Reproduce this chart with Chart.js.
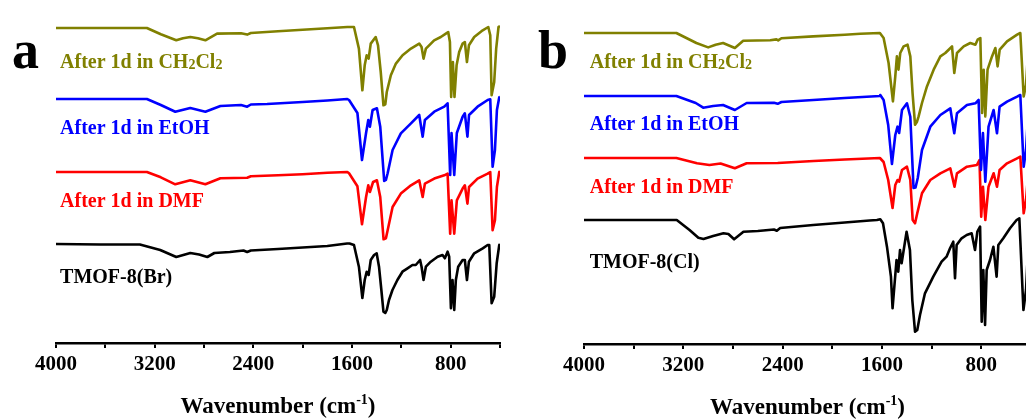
<!DOCTYPE html>
<html>
<head>
<meta charset="utf-8">
<script src="https://cdn.jsdelivr.net/npm/chart.js@4.4.1/dist/chart.umd.min.js"></script>
<style>
  html, body { margin: 0; padding: 0; background: #fff; overflow: hidden; width: 1026px; height: 419px; }
  #wrap { position: relative; width: 1026px; height: 419px; overflow: hidden; }
  canvas { position: absolute; top: 0; }
  #panelA { left: 0; width: 513px; height: 419px; }
  #panelB { left: 513px; width: 530px; height: 419px; }
</style>
</head>
<body>
<div id="wrap">
  <canvas id="panelA" width="513" height="419"></canvas>
  <canvas id="panelB" width="530" height="419"></canvas>
</div>
<script>
// --- axis ticks (cm-1) ---
const tickValues = [4000, 3600, 3200, 2800, 2400, 2000, 1600, 1200, 800, 400];
const majorTicks = [4000, 3200, 2400, 1600, 800];

// --- panel a : TMOF-8(Br), [wavenumber, %T] ---
const aTmof = [[4000,100],[3640,99.5],[3320,99.5],[3155,94],[3025,87],[2968,89],[2911,91],[2840,89.5],[2773,87],[2716,91],[2590,92],[2480,93.5],[2450,92],[2420,93.5],[2200,95],[2000,96.5],[1800,98],[1640,100.5],[1620,100.5],[1584,99],[1544,77.3],[1516,46],[1497,64],[1481,72.3],[1465,69],[1448,84],[1421,89],[1400,90.7],[1381,77.3],[1362,54],[1345,32.3],[1330,31],[1318,34],[1300,44],[1272,54],[1232,64],[1191,72.3],[1150,75.7],[1110,79],[1083,79],[1048,84],[1036,77.3],[1020,64],[1001,77.3],[961,82.3],[906,87.3],[866,89],[847,85.7],[825,92.3],[812,87.3],[798,35.7],[785,64],[771,34],[758,64],[739,77.3],[703,84],[685,84],[668,64],[652,82.3],[609,90.7],[540,95.7],[500,99],[487,99],[468,40.7],[447,47.3],[427,80.7],[406,99],[400,100]];
const aDmf = [[4000,100],[3263,100],[3150,94.7],[3033,87.7],[2911,91.7],[2789,87.7],[2667,93.7],[2450,94.2],[2420,95.7],[2200,96.7],[2000,97.7],[1800,99.2],[1638,100],[1624,98.7],[1556,85.7],[1519,47.7],[1486,75],[1468,86.7],[1455,80],[1429,90],[1398,91.7],[1371,75],[1344,32.7],[1325,33.7],[1311,41.7],[1271,65],[1204,78.4],[1122,86.7],[1055,91.7],[1027,75],[1009,88.4],[933,93.4],[852,96.7],[825,98.4],[804,38.4],[793,71.7],[771,38.4],[750,71.7],[703,83.4],[685,86.7],[664,68.4],[651,85],[582,93.4],[500,98.4],[479,100],[460,41.7],[441,51.7],[425,85],[406,100],[400,100.7]];
const aEtoh = [[4000,100],[3263,100],[3150,94],[3033,87.3],[2911,91],[2789,87.3],[2667,93],[2500,94],[2450,92.3],[2420,94.5],[2288,95],[2000,97],[1800,98.5],[1638,100],[1624,99],[1556,86],[1519,39],[1486,66],[1468,79],[1455,72.3],[1433,89],[1398,90.7],[1371,72.3],[1339,18],[1325,19],[1311,25.7],[1271,49],[1204,65.7],[1122,75.7],[1055,84],[1027,62.3],[1009,79],[933,87.3],[852,92.3],[825,95.7],[804,24],[793,66],[771,24],[750,66],[703,82.3],[685,85.7],[664,62.3],[651,84],[582,92.3],[500,99],[479,99.7],[460,32.3],[441,49],[425,89],[406,101.7],[400,102]];
const aDcm = [[4000,100],[3263,100],[3150,93.7],[3025,87.7],[2970,89.7],[2911,91],[2850,89.7],[2789,87.7],[2694,94.4],[2500,94.7],[2450,93.4],[2420,95],[2200,96.7],[2000,98.2],[1800,99.7],[1638,101],[1584,101],[1544,79.4],[1516,37.7],[1497,62.7],[1481,72.7],[1465,69.4],[1448,84.4],[1408,91],[1389,82.7],[1367,56],[1345,22.7],[1330,23.7],[1318,36],[1285,52.7],[1244,64.4],[1190,72.7],[1122,79.4],[1055,84.4],[1036,81],[1020,69.4],[1001,79.4],[934,87.7],[880,91],[839,94.4],[820,96],[806,86],[796,31],[782,66],[769,31],[752,62.7],[731,76],[703,84.4],[685,86],[668,66],[652,82.7],[609,91],[540,97.7],[495,101],[479,92.7],[468,32.7],[447,46],[431,79.4],[412,101],[400,101.7]];
const offsetsA = [216, 145, 72, 0];   // olive, blue, red, black

// --- panel b : TMOF-8(Cl) ---
const bTmof = [[4000,100],[3253,100],[3150,90],[3079,82.3],[3038,81],[2960,84],[2877,86.7],[2837,86],[2791,80.7],[2716,88.3],[2600,89],[2470,90.5],[2447,89.3],[2420,92],[2154,95],[1900,97.5],[1700,99.5],[1641,100],[1614,100.7],[1592,96.7],[1560,73.3],[1528,43.3],[1515,11.7],[1483,60],[1469,48.3],[1455,70],[1442,56.7],[1402,88.3],[1375,70],[1356,20],[1334,-11.7],[1316,-10],[1294,5],[1254,26.7],[1187,43.3],[1120,58.3],[1080,63.3],[1052,71.7],[1026,78.3],[1012,41.7],[999,75],[959,81.7],[918,85],[878,86.7],[851,70],[832,88.3],[810,93.3],[797,-1.7],[784,50],[770,-5],[757,50],[730,60],[703,73.3],[677,43.3],[663,75],[623,81.7],[569,91.7],[516,100],[494,101.7],[461,10],[440,30],[420,80],[400,100]];
const bDmf = [[4000,100],[3256,100],[3090,94.7],[2990,93],[2900,94.5],[2785,89.7],[2690,94.7],[2440,95],[2150,97],[1900,98.5],[1617,100],[1587,96],[1550,78],[1515,50],[1493,73],[1475,78],[1462,76.3],[1439,88],[1399,91.3],[1372,78],[1353,38],[1334,34.7],[1316,44.7],[1278,64.7],[1211,78],[1130,84.7],[1050,89.7],[1016,71.3],[996,84.7],[916,91.3],[836,93],[815,98],[801,41.3],[787,71.3],[768,38],[742,71.3],[701,84.7],[674,71.3],[653,88],[593,94.7],[512,99.7],[486,101.3],[459,44.7],[440,58],[420,88],[400,100]];
const bEtoh = [[4000,100],[3256,100],[3100,93],[3040,88.3],[2960,90],[2880,91],[2785,86],[2690,93],[2470,93.2],[2440,92.2],[2410,94],[2154,96],[1900,98],[1617,100],[1614,101],[1587,96],[1550,71],[1520,32],[1493,61],[1475,69.3],[1462,63],[1439,86],[1399,92.7],[1372,79.3],[1346,8],[1330,8.5],[1312,18],[1278,46],[1211,69.3],[1130,81],[1050,87.7],[1018,62.7],[996,82.7],[916,91],[848,92.7],[822,96],[803,26],[787,63],[768,14.3],[742,69.3],[701,86],[674,62.7],[653,89.3],[593,94.3],[512,99.3],[486,101],[459,29.3],[440,46],[420,88],[400,100]];
const bDcm = [[4000,100],[3256,100],[3095,90],[3000,85.6],[2940,88.3],[2880,90],[2785,85],[2718,92.3],[2500,92.8],[2450,93.6],[2436,92.6],[2410,94.8],[2154,96.6],[1900,98.3],[1775,99.3],[1617,100],[1587,95],[1547,70],[1512,31.6],[1493,56.6],[1480,76.6],[1467,63.3],[1453,80],[1426,86.6],[1394,88.3],[1372,76.6],[1354,40],[1334,8.3],[1318,11.3],[1305,16.6],[1278,30],[1238,46.6],[1184,63.3],[1130,76.6],[1090,80],[1063,83.3],[1036,86.6],[1018,60],[996,80],[942,86.6],[889,90],[848,88.3],[830,93.3],[808,95],[794,20],[781,63.3],[768,16.6],[750,63.3],[714,76.6],[687,85],[669,66.6],[652,83.3],[593,91.6],[512,98.3],[486,100],[459,36.6],[440,48],[420,88],[400,100]];
const offsetsB = [187, 124, 62, 0];

// series names, split into [text, 0 normal | 1 subscript]
const namesA = [
  [['After 1d in CH', 0], ['2', 1], ['Cl', 0], ['2', 1]],
  [['After 1d in EtOH', 0]],
  [['After 1d in DMF', 0]],
  [['TMOF-8(Br)', 0]]
];
const namesB = [namesA[0], namesA[1], namesA[2], [['TMOF-8(Cl)', 0]]];
const colors = ['#808000', '#0000ff', '#ff0000', '#000000'];

const FONT = '"Liberation Serif", "Times New Roman", serif';

function drawParts(ctx, parts, x, y, size, align) {
  const fontFor = k => 'bold ' + (k ? Math.round(size * (k === 1 ? 0.72 : 0.6)) : size) + 'px ' + FONT;
  let total = 0;
  parts.forEach(([t, k]) => { ctx.font = fontFor(k); total += ctx.measureText(t).width; });
  let cx = align === 'center' ? x - total / 2 : x;
  parts.forEach(([t, k]) => {
    ctx.font = fontFor(k);
    const dy = k === 1 ? 1 : (k === 2 ? -size * 0.4 : 0);
    ctx.fillText(t, cx, y + dy);
    cx += ctx.measureText(t).width;
  });
}

// letters, series names and the axis title
const annotate = {
  id: 'annotate',
  afterDraw(chart, args, opts) {
    const { ctx, chartArea } = chart;
    const xs = chart.scales.x, ys = chart.scales.y;
    ctx.save();
    ctx.textBaseline = 'alphabetic';
    ctx.textAlign = 'left';
    ctx.fillStyle = '#000';
    ctx.font = 'bold 54px ' + FONT;
    ctx.fillText(opts.letter, opts.letterX, 68);
    opts.names.forEach((parts, i) => {
      ctx.fillStyle = colors[i];
      drawParts(ctx, parts, xs.getPixelForValue(opts.nameWn), ys.getPixelForValue(opts.nameY[i]), 20, 'left');
    });
    ctx.fillStyle = '#000';
    drawParts(ctx, [['Wavenumber (cm', 0], ['-1', 2], [')', 0]],
      (chartArea.left + chartArea.right) / 2, chartArea.bottom + 70, 23, 'center');
    ctx.restore();
  }
};

function makePanel(id, series, offsets, opt) {
  const datasets = series.map((s, i) => ({
    data: s.map(p => ({ x: p[0], y: p[1] + offsets[i] })),
    borderColor: colors[i],
    borderWidth: 2.6,
    borderJoinStyle: 'round',
    pointRadius: 0,
    tension: 0,
    fill: false
  }));
  return new Chart(document.getElementById(id), {
    type: 'line',
    data: { datasets },
    options: {
      responsive: false,
      animation: false,
      devicePixelRatio: 1,
      parsing: false,
      layout: { padding: { left: opt.padLeft, right: opt.padRight, top: 10, bottom: 0 } },
      plugins: {
        legend: { display: false },
        tooltip: { enabled: false },
        annotate: opt.annotate
      },
      scales: {
        x: {
          type: 'linear',
          reverse: true,
          min: 400,
          max: 4000,
          afterBuildTicks: s => { s.ticks = tickValues.map(v => ({ value: v })); },
          afterFit: s => { s.height = opt.xHeight; },
          ticks: {
            autoSkip: false,
            maxRotation: 0,
            padding: 4,
            color: '#000',
            font: { family: FONT, size: 21, weight: 'bold' },
            callback: v => majorTicks.includes(v) ? String(v) : ''
          },
          grid: { display: true, drawOnChartArea: false, drawTicks: true, tickLength: 5, color: '#000', lineWidth: 2 },
          border: { display: true, color: '#000', width: 2.5 }
        },
        y: { display: false, min: opt.yMin, max: opt.yMax }
      }
    },
    plugins: [annotate]
  });
}

makePanel('panelA', [aDcm, aEtoh, aDmf, aTmof], offsetsA, {
  padLeft: 56, padRight: 13, xHeight: 76, yMin: 1, yMax: 334,
  annotate: { letter: 'a', letterX: 12, names: namesA, nameWn: 3967, nameY: [276, 210, 137, 61] }
});

makePanel('panelB', [bDcm, bEtoh, bDmf, bTmof], offsetsB, {
  padLeft: 71, padRight: 12, xHeight: 75, yMin: -24, yMax: 310,
  annotate: { letter: 'b', letterX: 25, names: namesB, nameWn: 3954, nameY: [251.7, 190, 126.7, 51.7] }
});
</script>
</body>
</html>
